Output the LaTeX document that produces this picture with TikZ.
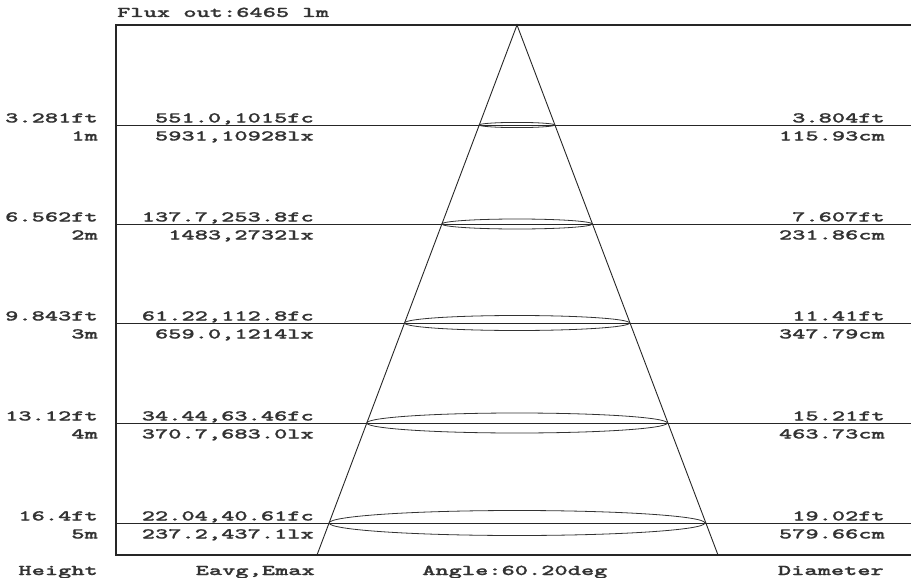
\documentclass[tikz,border=0pt]{standalone}
\usepackage{fontspec}
\newfontfamily\chartfont{lmmonolt10-bold.otf}[FakeStretch=1.68, FakeBold=1]
\begin{document}
\begin{tikzpicture}[x=1pt, y=-1pt,
    lbl/.style = {font=\chartfont\fontsize{15}{16}\selectfont, text=black!80, inner sep=0pt},
    frame/.style = {draw=black!85, line width=1.3pt},
    rule/.style = {draw=black!85, line width=1pt},
    beam/.style = {draw=black!85, line width=0.9pt},
    spot/.style = {draw=black!80, line width=0.8pt}]
        \useasboundingbox (0,0) rectangle (911,578);

        % frame and height lines
        \draw[frame] (911,25) -- (116,25) -- (116,555) -- (911,555);
        \foreach \h in {125,224,323,423,523}
            \draw[rule] (116,\h) -- (911,\h);

        % light cone
        \coordinate (apex) at (517,25);
        \coordinate (baseL) at (317,555);
        \coordinate (baseR) at (718,555);
        \draw[beam] (baseL) -- (apex) -- (baseR);
        \draw[spot] (517,125) ellipse [x radius=37.7pt, y radius=2.6pt];
        \draw[spot] (517,224) ellipse [x radius=75.1pt, y radius=5pt];
        \draw[spot] (517,323) ellipse [x radius=112.5pt, y radius=7.5pt];
        \draw[spot] (517,423) ellipse [x radius=150.2pt, y radius=10pt];
        \draw[spot] (517,523) ellipse [x radius=187.9pt, y radius=12.5pt];

        \node[lbl, anchor=base west] (flux) at (117,17) {Flux out:6465 lm};

        % 1m
        \node[lbl, anchor=base east] (ft1)  at (98,122.5)  {3.281ft};
        \node[lbl, anchor=base east] (m1)   at (98,140.5)  {1m};
        \node[lbl, anchor=base east] (fc1)  at (314,122.5) {551.0,1015fc};
        \node[lbl, anchor=base east] (lx1)  at (314,140.5) {5931,10928lx};
        \node[lbl, anchor=base east] (dft1) at (885,122.5) {3.804ft};
        \node[lbl, anchor=base east] (dcm1) at (885,140.5) {115.93cm};

        % 2m
        \node[lbl, anchor=base east] (ft2)  at (98,221.5)  {6.562ft};
        \node[lbl, anchor=base east] (m2)   at (98,239.5)  {2m};
        \node[lbl, anchor=base east] (fc2)  at (314,221.5) {137.7,253.8fc};
        \node[lbl, anchor=base east] (lx2)  at (314,239.5) {1483,2732lx};
        \node[lbl, anchor=base east] (dft2) at (885,221.5) {7.607ft};
        \node[lbl, anchor=base east] (dcm2) at (885,239.5) {231.86cm};

        % 3m
        \node[lbl, anchor=base east] (ft3)  at (98,320.5)  {9.843ft};
        \node[lbl, anchor=base east] (m3)   at (98,338.5)  {3m};
        \node[lbl, anchor=base east] (fc3)  at (314,320.5) {61.22,112.8fc};
        \node[lbl, anchor=base east] (lx3)  at (314,338.5) {659.0,1214lx};
        \node[lbl, anchor=base east] (dft3) at (885,320.5) {11.41ft};
        \node[lbl, anchor=base east] (dcm3) at (885,338.5) {347.79cm};

        % 4m
        \node[lbl, anchor=base east] (ft4)  at (98,420.5)  {13.12ft};
        \node[lbl, anchor=base east] (m4)   at (98,438.5)  {4m};
        \node[lbl, anchor=base east] (fc4)  at (314,420.5) {34.44,63.46fc};
        \node[lbl, anchor=base east] (lx4)  at (314,438.5) {370.7,683.0lx};
        \node[lbl, anchor=base east] (dft4) at (885,420.5) {15.21ft};
        \node[lbl, anchor=base east] (dcm4) at (885,438.5) {463.73cm};

        % 5m
        \node[lbl, anchor=base east] (ft5)  at (98,520.5)  {16.4ft};
        \node[lbl, anchor=base east] (m5)   at (98,538.5)  {5m};
        \node[lbl, anchor=base east] (fc5)  at (314,520.5) {22.04,40.61fc};
        \node[lbl, anchor=base east] (lx5)  at (314,538.5) {237.2,437.1lx};
        \node[lbl, anchor=base east] (dft5) at (885,520.5) {19.02ft};
        \node[lbl, anchor=base east] (dcm5) at (885,538.5) {579.66cm};

        % column titles
        \node[lbl, anchor=base east] (height) at (98,575)  {Height};
        \node[lbl, anchor=base east] (eavg)   at (315,575) {Eavg,Emax};
        \node[lbl, anchor=base west] (angle)  at (422,575) {Angle:60.20deg};
        \node[lbl, anchor=base east] (diam)   at (884,575) {Diameter};

    \end{tikzpicture}
\end{document}
